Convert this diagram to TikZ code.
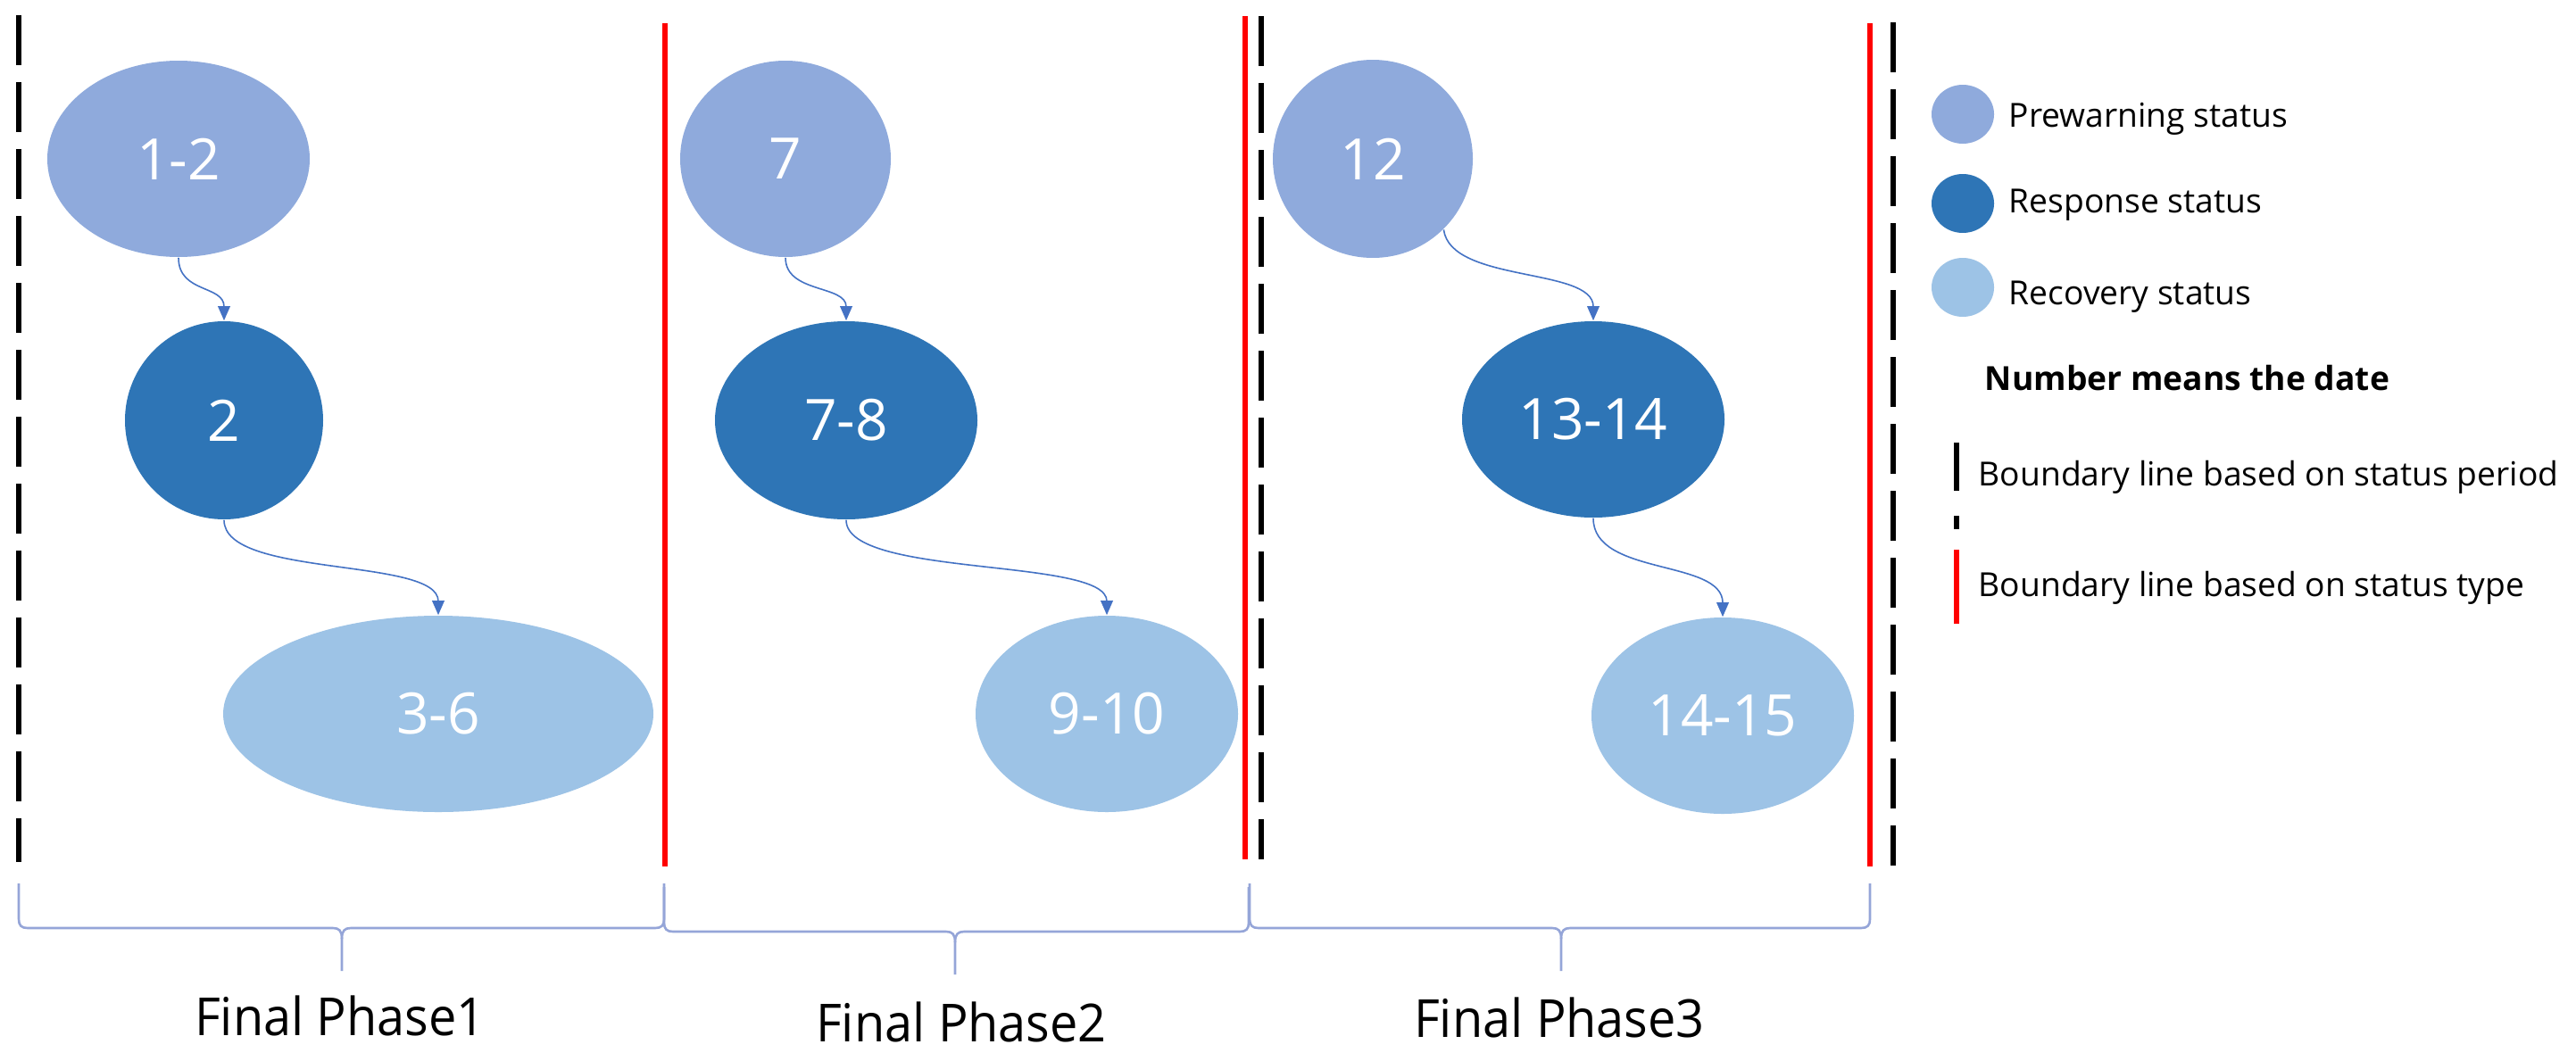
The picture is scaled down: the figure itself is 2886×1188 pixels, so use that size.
\documentclass[tikz,border=0pt]{standalone}
\usepackage{fontspec}
\setmainfont{Open Sans}
\usetikzlibrary{shapes.geometric,arrows.meta}
\definecolor{prew}{HTML}{8FAADC}
\definecolor{resp}{HTML}{2E75B6}
\definecolor{reco}{HTML}{9DC3E6}
\definecolor{arrc}{HTML}{4472C4}
\definecolor{bracec}{HTML}{95A5D8}
\newcommand{\phasebrace}[4]{%
  \draw[bracepath] ({#1},{#4-50}) -- ({#1},{#4-10}) .. controls ({#1},{#4-3}) and ({#1+3},{#4}) .. ({#1+10},{#4}) -- ({#3-10},{#4}) .. controls ({#3-3},{#4}) and ({#3},{#4+3}) .. ({#3},{#4+12}) -- ({#3},{#4+48});
  \draw[bracepath] ({#3},{#4+12}) .. controls ({#3},{#4+3}) and ({#3+3},{#4}) .. ({#3+10},{#4}) -- ({#2-10},{#4}) .. controls ({#2-3},{#4}) and ({#2},{#4-3}) .. ({#2},{#4-10}) -- ({#2},{#4-50});
}
\begin{document}
\begin{tikzpicture}[x=0.25pt,y=-0.25pt,
  sz/.style 2 args={minimum width=#1*0.25pt, minimum height=#2*0.25pt},
  stat/.style={ellipse, inner sep=0pt, text=white, font=\fontsize{16}{19}\selectfont},
  prenode/.style={stat, fill=prew},
  respnode/.style={stat, fill=resp},
  reconode/.style={stat, fill=reco},
  flow/.style={draw=arrc, line width=0.4pt, -{Triangle[length=4pt,width=3.4pt]}},
  bnd/.style={draw=black, line width=1.5pt, dash pattern=on 14pt off 4.75pt},
  legbnd/.style={draw=black, line width=1.5pt, dash pattern=on 13.5pt off 7pt},
  typeline/.style={draw=red, line width=1.5pt},
  bracepath/.style={draw=bracec, line width=0.65pt},
  legtext/.style={anchor=base west, inner sep=0pt, font=\fontsize{9.3}{11}\selectfont},
  phase/.style={anchor=base, inner sep=0pt, font=\fontsize{14.7}{17}\selectfont},
]
\fill[white] (0,0) rectangle (2886,1188);
\useasboundingbox (0,0) rectangle (2886,1188);

% boundary lines
\draw[bnd] (21,17) -- (21,966);
\draw[typeline] (745,26) -- (745,971);
\draw[typeline] (1395,18) -- (1395,963);
\draw[bnd] (1413,18) -- (1413,963);
\draw[typeline] (2095,26) -- (2095,971);
\draw[bnd] (2121,25) -- (2121,970);

% status nodes
\node[prenode, sz={294}{220}] (a1) at (200,178) {1-2};
\node[respnode, sz={222}{222}] (a2) at (251,471) {2};
\node[reconode, sz={482}{220}] (a3) at (491,800) {3-6};
\node[prenode, sz={236}{220}] (b1) at (880,178) {7};
\node[respnode, sz={294}{222}] (b2) at (948,471) {7-8};
\node[reconode, sz={294}{220}] (b3) at (1240,800) {9-10};
\node[prenode, sz={224}{222}] (c1) at (1538,178) {12};
\node[respnode, sz={294}{220}] (c2) at (1785,470) {13-14};
\node[reconode, sz={294}{220}] (c3) at (1930,802) {14-15};

% connectors
\draw[flow] (a1.south) .. controls +(0,40) and +(0,-40) .. (a2.north);
\draw[flow] (a2.south) .. controls +(0,65) and +(0,-65) .. (a3.north);
\draw[flow] (b1.south) .. controls +(0,40) and +(0,-40) .. (b2.north);
\draw[flow] (b2.south) .. controls +(0,65) and +(0,-65) .. (b3.north);
\draw[flow] (c1.-45) .. controls +(8,60) and +(0,-60) .. (c2.north);
\draw[flow] (c2.south) .. controls +(0,65) and +(0,-65) .. (c3.north);

% braces
\phasebrace{21}{744}{383}{1040}
\phasebrace{744}{1399}{1070}{1044}
\phasebrace{1400}{2095}{1749}{1040}

\node[phase] (p1) at (381,1160) {\scalebox{0.95}[1]{Final Phase1}};
\node[phase] (p2) at (1077,1167) {\scalebox{0.95}[1]{Final Phase2}};
\node[phase] (p3) at (1747,1162) {\scalebox{0.95}[1]{Final Phase3}};

% legend
\node[prenode, sz={70}{66}] (l1) at (2199,128) {};
\node[respnode, sz={70}{66}] (l2) at (2199,228) {};
\node[reconode, sz={70}{66}] (l3) at (2199,322) {};
\node[legtext] (t1) at (2250,142.5) {Prewarning status};
\node[legtext] (t2) at (2250,238) {Response status};
\node[legtext] (t3) at (2250,341) {Recovery status};
\node[legtext, font=\fontsize{9.3}{11}\selectfont\bfseries] (t4) at (2223,437) {Number means the date};
\draw[legbnd] (2192,496) -- (2192,593);
\node[legtext] (t5) at (2216,544) {Boundary line based on status period};
\draw[typeline] (2192,616) -- (2192,699);
\node[legtext] (t6) at (2216,668) {Boundary line based on status type};
\end{tikzpicture}
\end{document}
